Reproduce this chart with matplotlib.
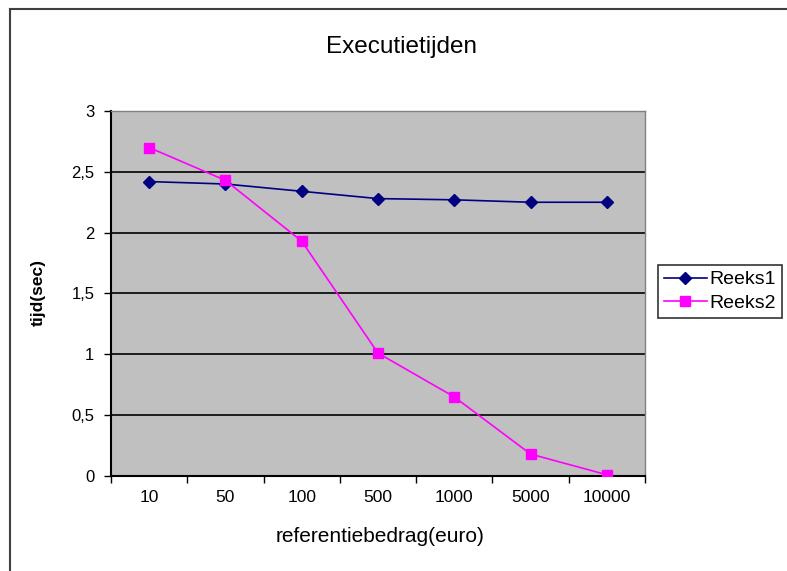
import matplotlib
matplotlib.use('Agg')
import matplotlib.pyplot as plt
from matplotlib.lines import Line2D
from matplotlib.ticker import FixedLocator, FuncFormatter
import numpy as np

plt.rcParams['font.family'] = ['Liberation Sans', 'DejaVu Sans']

categories = ['10', '50', '100', '500', '1000', '5000', '10000']
reeks1 = [2.42, 2.40, 2.34, 2.28, 2.27, 2.25, 2.25]
reeks2 = [2.70, 2.43, 1.93, 1.01, 0.65, 0.18, 0.01]
y_ticks = [0, 0.5, 1, 1.5, 2, 2.5, 3]

fig = plt.figure(figsize=(7.87, 5.71), dpi=100)
ax = fig.add_axes([0.141, 0.1664, 0.6786, 0.6392])
ax.set_facecolor('#C0C0C0')

x = np.arange(len(categories))
ax.plot(x, reeks1, color='#000080', lw=1.2, marker='D', ms=6, mec='#000080',
        mfc='#000080', label='Reeks1', zorder=4)
ax.plot(x, reeks2, color='#FF00FF', lw=1.2, marker='s', ms=6.5, mec='#FF00FF',
        mfc='#FF00FF', label='Reeks2', zorder=4)

ax.set_xlim(-0.5, len(categories) - 0.5)
ax.set_ylim(0, 3)
ax.set_xticks(x)
ax.set_xticklabels(categories, fontsize=12.5)
ax.xaxis.set_minor_locator(FixedLocator(np.arange(-0.5, len(categories), 1)))
ax.tick_params(axis='x', which='major', length=0, pad=10)
ax.tick_params(axis='x', which='minor', length=5, width=1, direction='out')
ax.set_yticks(y_ticks)
ax.yaxis.set_major_formatter(FuncFormatter(lambda v, p: ('%g' % v).replace('.', ',')))
ax.tick_params(axis='y', length=5, width=1, direction='out', labelsize=12, pad=7)

ax.grid(axis='y', color='black', lw=1.2)
ax.set_axisbelow(True)
for side in ['top', 'right']:
    ax.spines[side].set_color('#808080')
    ax.spines[side].set_linewidth(1)
for side in ['left', 'bottom']:
    ax.spines[side].set_color('black')
    ax.spines[side].set_linewidth(1.5)

fig.text(0.51, 0.918, 'Executietijden', ha='center', va='center', fontsize=17.5)
fig.text(0.483, 0.060, 'referentiebedrag(euro)', ha='center', va='center', fontsize=15)
fig.text(0.048, 0.487, 'tijd(sec)', ha='center', va='center', rotation=90,
         fontsize=12.5, fontweight='bold')

leg = fig.legend(loc='upper left', bbox_to_anchor=(0.836, 0.536), fontsize=14,
                 frameon=True, fancybox=False, edgecolor='black',
                 handlelength=2.2, handletextpad=0.15, borderpad=0.3,
                 labelspacing=0.3, borderaxespad=0)
leg.get_frame().set_linewidth(1.2)

# chart area border (cropped at right/bottom)
fig.add_artist(Line2D([0.0127, 0.0127], [0.0, 0.984], color='#404040', lw=1.5,
                      transform=fig.transFigure))
fig.add_artist(Line2D([0.0127, 1.0], [0.984, 0.984], color='#404040', lw=1.5,
                      transform=fig.transFigure))

fig.savefig('out.png', dpi=100)
